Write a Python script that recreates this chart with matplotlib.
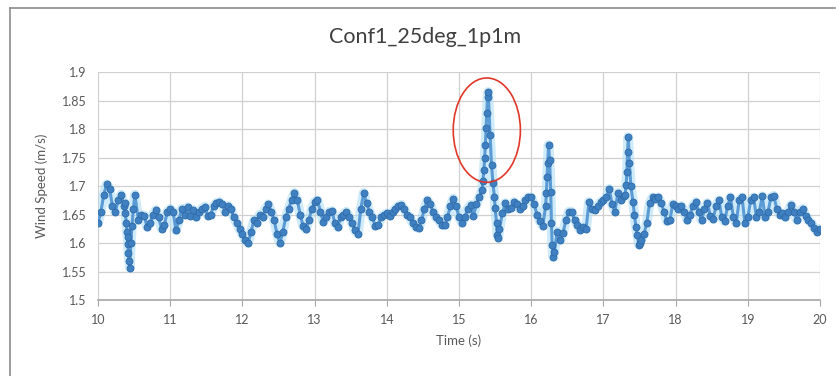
import numpy as np
import matplotlib

matplotlib.use("Agg")

from matplotlib import pyplot as plt
from matplotlib.patches import Ellipse

# base samples every 0.04 s; nan = covered by the detail segments below
base_start = 10.0
base_step = 0.04
speed_10 = [1.635, 1.655, 1.685, 1.703, 1.695, 1.665, 1.655, 1.675, 1.685, 1.665,
            np.nan, np.nan, np.nan, np.nan, 1.640, 1.650, 1.648, 1.628, 1.635, 1.650,
            1.658, 1.645, 1.625, 1.632, 1.655]
speed_11 = [1.660, 1.655, 1.622, 1.640, 1.660, 1.650, 1.663, 1.648, 1.658, 1.645,
            1.655, 1.660, 1.664, 1.648, 1.650, 1.665, 1.670, 1.672, 1.668, 1.655,
            1.665, 1.660, 1.645, 1.635, 1.625]
speed_12 = [1.615, 1.605, 1.600, 1.620, 1.640, 1.635, 1.650, 1.645, 1.660, 1.668,
            1.655, 1.640, 1.615, 1.600, 1.620, 1.645, 1.660, 1.675, 1.688, 1.675,
            1.650, 1.630, 1.624, 1.640, 1.660]
speed_13 = [1.672, 1.675, 1.655, 1.637, 1.645, 1.655, 1.656, 1.635, 1.628, 1.645,
            1.650, 1.655, 1.645, 1.635, 1.622, 1.616, 1.660, 1.688, 1.670, 1.655,
            1.645, 1.630, 1.632, 1.645, 1.650]
speed_14 = [1.652, 1.648, 1.655, 1.660, 1.665, 1.667, 1.660, 1.650, 1.645, 1.635,
            1.628, 1.626, 1.640, 1.660, 1.675, 1.668, 1.655, 1.645, 1.640, 1.632,
            1.631, 1.645, 1.665, 1.678, 1.665]
speed_15 = [1.645, 1.635, 1.645, 1.660, 1.667, 1.648, 1.668, 1.680, 1.693, np.nan,
            np.nan, np.nan, np.nan, np.nan, 1.625, 1.652, 1.670, 1.660, 1.662, 1.672,
            1.668, 1.660, 1.665, 1.675, 1.680]
speed_16 = [1.680, 1.668, 1.650, 1.638, 1.630, 1.665, np.nan, np.nan, 1.585, 1.620,
            1.605, 1.617, 1.640, 1.655, 1.655, 1.640, 1.632, 1.623, 1.628, 1.625,
            1.672, 1.660, 1.658, 1.665, 1.672]
speed_17 = [1.675, 1.680, 1.695, 1.668, 1.655, 1.688, 1.675, 1.682, np.nan, np.nan,
            np.nan, np.nan, np.nan, 1.605, 1.615, 1.635, 1.670, 1.680, 1.678, 1.680,
            1.670, 1.655, 1.638, 1.640, 1.668]
speed_18 = [1.665, 1.660, 1.665, 1.655, 1.640, 1.650, 1.665, 1.672, 1.655, 1.640,
            1.660, 1.670, 1.648, 1.642, 1.665, 1.675, 1.645, 1.638, 1.665, 1.680,
            1.645, 1.635, 1.675, 1.680, 1.635]
speed_19 = [1.645, 1.675, 1.680, 1.645, 1.655, 1.682, 1.645, 1.655, 1.680, 1.683,
            1.660, 1.650, 1.652, 1.645, 1.655, 1.667, 1.655, 1.640, 1.655, 1.660,
            1.648, 1.640, 1.635, 1.627, 1.620, 1.625]

# denser samples around the dip and the three gusts
dip_time = [10.37, 10.38, 10.39, 10.40, 10.41, 10.415, 10.42, 10.43, 10.44, 10.455, 10.47, 10.49, 10.51]
dip_speed = [1.670, 1.652, 1.635, 1.620, 1.610, 1.598, 1.583, 1.568, 1.556, 1.600, 1.630, 1.660, 1.685]
gust1_time = [15.33, 15.345, 15.355, 15.365, 15.375, 15.385, 15.395, 15.405, 15.43,
              15.45, 15.47, 15.49, 15.50, 15.52, 15.53, 15.545]
gust1_speed = [1.708, 1.728, 1.749, 1.772, 1.801, 1.828, 1.857, 1.865, 1.790,
               1.737, 1.705, 1.681, 1.661, 1.635, 1.614, 1.609]
gust2_time = [16.21, 16.22, 16.23, 16.24, 16.255, 16.27, 16.28, 16.29, 16.305]
gust2_speed = [1.688, 1.716, 1.740, 1.772, 1.745, 1.690, 1.635, 1.597, 1.575]
gust3_time = [17.30, 17.315, 17.325, 17.335, 17.345, 17.36, 17.38, 17.41, 17.43,
              17.45, 17.47, 17.49, 17.51]
gust3_speed = [1.685, 1.702, 1.725, 1.760, 1.786, 1.740, 1.700, 1.672, 1.649,
               1.628, 1.614, 1.597, 1.600]

x_ticks = list(range(10, 21))
y_ticks = [1.5, 1.55, 1.6, 1.65, 1.7, 1.75, 1.8, 1.85, 1.9]

base_speed = np.array(speed_10 + speed_11 + speed_12 + speed_13 + speed_14
                      + speed_15 + speed_16 + speed_17 + speed_18 + speed_19)
base_time = base_start + base_step * np.arange(len(base_speed))
keep = ~np.isnan(base_speed)

time = np.concatenate([base_time[keep], dip_time, gust1_time, gust2_time, gust3_time])
speed = np.concatenate([base_speed[keep], dip_speed, gust1_speed, gust2_speed, gust3_speed])
order = np.argsort(time)
time, speed = time[order], speed[order]

plt.rcParams["font.family"] = ["Lato", "DejaVu Sans"]

fig = plt.figure(figsize=(8.37, 3.76), dpi=100)
ax = fig.add_axes([0.1171, 0.2021, 0.8626, 0.6064])

# chart frame
fig.add_artist(plt.Line2D([0.012, 0.012], [0, 0.979], color="#8c8c8c", lw=1.2))
fig.add_artist(plt.Line2D([0.012, 0.998], [0.979, 0.979], color="#8c8c8c", lw=1.2))

ax.plot(time, speed, color="#a8dcf5", linewidth=7, alpha=0.55, solid_capstyle="round", zorder=2)
ax.plot(time, speed, color="#5B9BD5", linewidth=2.2, marker="o", markersize=5,
        markerfacecolor="#3f80c2", markeredgecolor="#2f6aa6", markeredgewidth=0.6, zorder=3)

ax.add_patch(Ellipse((15.385, 1.798), width=0.93, height=0.183, fill=False,
                     edgecolor="#e0382a", linewidth=1.2, zorder=4))

ax.set_xlim(10, 20)
ax.set_ylim(1.5, 1.9)
ax.set_xticks(x_ticks)
ax.set_yticks(y_ticks)
ax.set_yticklabels([f"{v:g}" for v in y_ticks])
ax.grid(True, color="#d0d0d0", linewidth=0.9)
ax.set_axisbelow(True)
for side in ("top", "right", "left"):
    ax.spines[side].set_visible(False)
ax.spines["bottom"].set_color("#a6a6a6")
ax.spines["bottom"].set_linewidth(1.2)
ax.tick_params(axis="x", length=4, color="#a6a6a6", labelsize=9, labelcolor="#595959", pad=6)
ax.tick_params(axis="y", length=0, labelsize=9, labelcolor="#595959", pad=8)

fig.text(0.508, 0.902, "Conf1_25deg_1p1m", fontsize=15.5, color="#404040",
         ha="center", va="center")
ax.set_xlabel("Time (s)", fontsize=9.5, color="#595959", labelpad=6)
ax.set_ylabel("Wind Speed (m/s)", fontsize=9.5, color="#595959", labelpad=10)

fig.savefig("out.png", dpi=100)
plt.close(fig)
